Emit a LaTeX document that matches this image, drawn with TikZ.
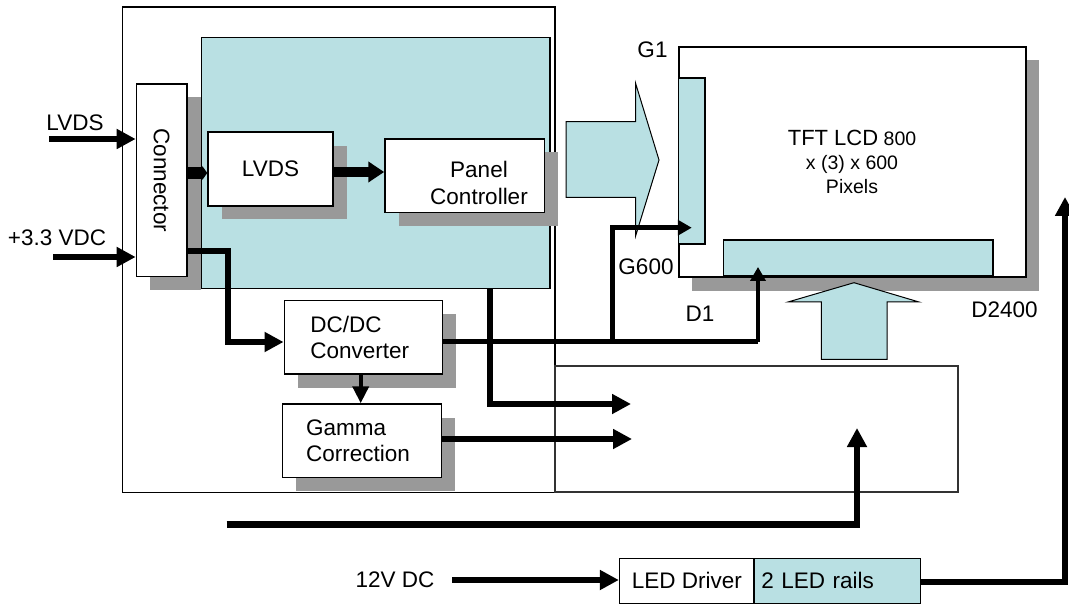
\documentclass[tikz,border=0pt]{standalone}
\usepackage{fontspec}
\setmainfont{Liberation Sans}
\usepackage{graphicx}
\usetikzlibrary{arrows.meta, shadows}
\definecolor{panelCyan}{RGB}{185,224,227}
\tikzstyle{rec} = [rectangle, draw=black, line width=1.5pt, inner sep=0pt, text centered]
\tikzstyle{recS} = [rec, fill=white, drop shadow={shadow xshift=13.5pt, shadow yshift=-13.5pt, fill=black!40, opacity=1}]
\tikzstyle{wire} = [line width=6.5pt, -{Triangle[length=19pt,width=19pt]}]
\tikzstyle{wireS} = [line width=4.7pt, -{Triangle[length=14pt,width=15pt]}]
\tikzstyle{bigArrow} = [draw=black, line width=1pt, fill=panelCyan, line join=miter]
\tikzstyle{lbl} = [inner sep=0pt]

\begin{document}
\begin{tikzpicture}[x=1pt, y=-1pt, font=\fontsize{22.5}{26.5}\selectfont]
	\useasboundingbox (0,0) rectangle (1069,604);
	% module and board
	\node (module) [rec, line width=1.2pt, minimum width=432.5pt, minimum height=485.3pt] at (338.75,249.65) {};
	\node (board) [rec, fill=panelCyan, line width=1.3pt, minimum width=348.3pt, minimum height=251.4pt] at (375.85,163) {};
	\node (conn) [recS, minimum width=50.6pt, minimum height=192.7pt] at (161.7,180.35) {\rotatebox{-90}{Connector}};
	\node (lvds) [recS, minimum width=125pt, minimum height=73.7pt] at (270.5,169) {LVDS};
	\node (pc) [recS, minimum width=159.5pt, minimum height=73.7pt] at (464.75,175.85) {};
	\node (pcTxt) [lbl, align=center] at (479,183) {Panel\\Controller};
	\node (dcdc) [recS, minimum width=158pt, minimum height=73.3pt, text width=106pt, align=left] at (363.3,337.35) {DC/DC\\Converter};
	\node (gamma) [recS, minimum width=159pt, minimum height=73.7pt, text width=112pt, align=left] at (362.2,440.85) {Gamma\\Correction};
	\node (drvBox) [rec, draw=black!80, line width=1.3pt, minimum width=403pt, minimum height=126pt] at (756.5,429) {};
	% panel
	\node (lcd) [recS, line width=2pt, minimum width=347pt, minimum height=230.6pt, align=center, font=\fontsize{19.5}{24}\selectfont] at (852,162) {{\fontsize{22}{24}\selectfont TFT LCD} 800\\x (3) x 600\\Pixels};
	\node (gStrip) [rec, fill=panelCyan, minimum width=26.5pt, minimum height=166pt] at (691.75,161) {};
	\node (dStrip) [rec, fill=panelCyan, line width=1.3pt, minimum width=269.6pt, minimum height=35.3pt] at (858.2,257.65) {};
	% LED driver
	\node (ledDrv) [rec, minimum width=134.4pt, minimum height=45pt] at (686.8,580.8) {LED Driver};
	\node (ledRails) [rec, fill=panelCyan, minimum width=166.6pt, minimum height=45pt, text width=152pt, align=left] at (837.3,580.8) {2 LED rails};
	% big arrows
	\draw [bigArrow] (566,121.7) -- (635.6,121.7) -- (635.6,83.3) -- (659,160) -- (635.6,236) -- (635.6,197.3) -- (566,197.3) -- cycle;
	\draw [bigArrow] (821.4,359.3) -- (821.4,302) -- (788,302) -- (854,282.7) -- (919,302) -- (887,302) -- (887,359.3) -- cycle;
	% labels
	\node (lvdsTxt) [lbl] at (75,123) {LVDS};
	\node (vccTxt) [lbl] at (57,238) {+3.3 VDC};
	\node (g1Txt) [lbl] at (652.5,50) {G1};
	\node (g600Txt) [lbl] at (646,266.7) {G600};
	\node (d1Txt) [lbl] at (700,314) {D1};
	\node (d2400Txt) [lbl] at (1004.5,310) {D2400};
	\node (v12Txt) [lbl] at (395,580) {12V DC};
	% free ends
	\coordinate (lvdsIn) at (49,139);
	\coordinate (vccIn) at (53,257);
	\coordinate (outA) at (631,404);
	\coordinate (outB) at (632,439);
	\coordinate (split) at (612.6,341.7);
	\coordinate (dEnd) at (758,341.7);
	\coordinate (bIn) at (226.6,524.3);
	\coordinate (bTip) at (857,428);
	\coordinate (v12In) at (452,580);
	\coordinate (railTip) at (1065,197);
	% wires
	\draw [wire] (lvdsIn) -- (lvdsIn -| conn.west);
	\draw [wire] (vccIn) -- (vccIn -| conn.west);
	\draw [line width=12pt, -{Triangle[length=5pt,width=14pt]}] (conn.east |- 0,173) -- (lvds.west |- 0,173);
	\draw [line width=10pt, -{Triangle[length=16pt,width=20pt]}] (lvds.east |- 0,172) -- (pc.west |- 0,172);
	\draw [wire, line width=5.7pt] (conn.east |- 0,251) -- (228,251) -- (228,342) -- (dcdc.west |- 0,342);
	\draw [wire, line width=4pt, -{Triangle[length=17pt,width=16pt]}] (dcdc.south -| 360.7,0) -- (gamma.north -| 360.7,0);
	\draw [wire] (board.south -| 490,0) -- (490,404) -- (outA);
	\draw [wire] (gamma.east |- outB) -- (outB);
	\draw [line width=4.7pt] (dcdc.east |- split) -- (dEnd);
	\draw [wireS] (split) -- (612.6,227.7) -- (gStrip.center |- 0,227.7);
	\draw [wireS] (dEnd) -- (dStrip.south -| dEnd) -- ++(0,-9);
	\draw [wire] (bIn) -- (bTip |- bIn) -- (bTip);
	\draw [wire] (v12In) -- (ledDrv.west |- v12In);
	\draw [wire] (ledRails.east |- 0,582) -- (railTip |- 0,582) -- (railTip);
\end{tikzpicture}
\end{document}
